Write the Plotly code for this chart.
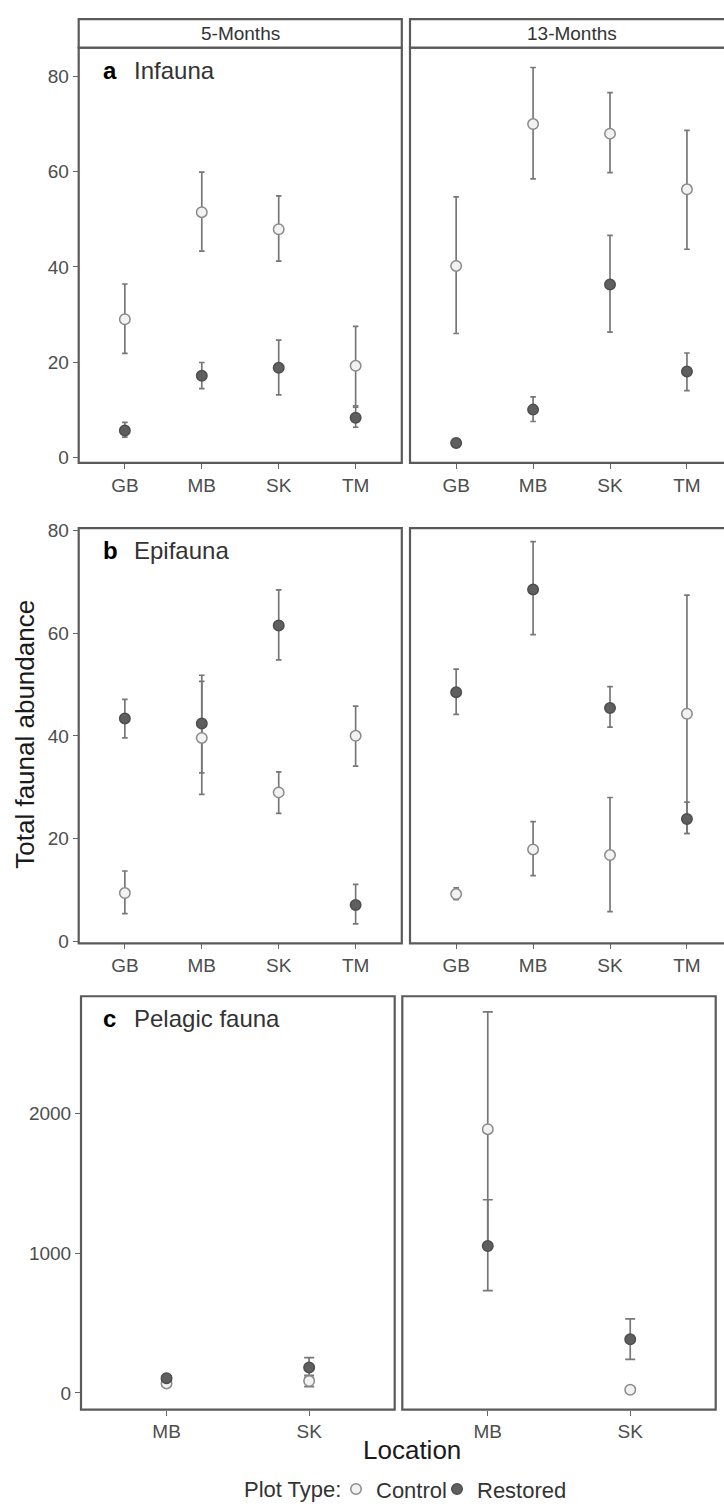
import numpy as np
import plotly.graph_objects as go

W, H = 724, 1511

# ---------------- data ----------------
locs4 = ["GB", "MB", "SK", "TM"]
locs2 = ["MB", "SK"]
periods = ["5-Months", "13-Months"]

# Infauna
inf_5_ctrl = [29.0, 51.5, 47.9, 19.2]
inf_5_ctrl_lo = [21.8, 43.3, 41.2, 10.8]
inf_5_ctrl_hi = [36.4, 59.9, 54.9, 27.5]
inf_5_rest = [5.6, 17.1, 18.8, 8.3]
inf_5_rest_lo = [4.2, 14.4, 13.1, 6.3]
inf_5_rest_hi = [7.3, 19.9, 24.6, 10.5]
inf_13_ctrl = [40.2, 70.0, 68.0, 56.3]
inf_13_ctrl_lo = [26.0, 58.5, 59.8, 43.7]
inf_13_ctrl_hi = [54.7, 81.9, 76.6, 68.7]
inf_13_rest = [3.0, 10.0, 36.3, 18.0]
inf_13_rest_lo = [2.6, 7.5, 26.3, 14.0]
inf_13_rest_hi = [3.5, 12.7, 46.6, 21.9]

# Epifauna
epi_5_ctrl = [9.4, 39.6, 29.0, 40.0]
epi_5_ctrl_lo = [5.4, 28.6, 24.9, 34.1]
epi_5_ctrl_hi = [13.7, 51.8, 33.0, 45.8]
epi_5_rest = [43.4, 42.4, 61.5, 7.1]
epi_5_rest_lo = [39.6, 32.8, 54.8, 3.4]
epi_5_rest_hi = [47.1, 50.6, 68.4, 11.1]
epi_13_ctrl = [9.2, 17.9, 16.8, 44.3]
epi_13_ctrl_lo = [8.1, 12.8, 5.8, 21.0]
epi_13_ctrl_hi = [10.4, 23.3, 28.0, 67.4]
epi_13_rest = [48.5, 68.5, 45.4, 23.8]
epi_13_rest_lo = [44.2, 59.7, 41.7, 21.0]
epi_13_rest_hi = [53.0, 77.8, 49.6, 27.1]

# Pelagic fauna
pel_5_ctrl = [68, 85]
pel_5_ctrl_lo = [52, 45]
pel_5_ctrl_hi = [84, 125]
pel_5_rest = [105, 182]
pel_5_rest_lo = [88, 112]
pel_5_rest_hi = [122, 252]
pel_13_ctrl = [1886, 23]
pel_13_ctrl_lo = [1048, 8]
pel_13_ctrl_hi = [2724, 38]
pel_13_rest = [1050, 384]
pel_13_rest_lo = [732, 240]
pel_13_rest_hi = [1381, 530]

y_ticks_ab = [0, 20, 40, 60, 80]
y_ticks_c = [0, 1000, 2000]

# ---------------- styling ----------------
FONT = "Liberation Sans, Arial, Helvetica, sans-serif"
BORDER = "#5a5a5a"
ERR = "#777777"
CTRL_FILL, CTRL_LINE = "#f2f2f2", "#8a8a8a"
REST_FILL, REST_LINE = "#5f5f5f", "#4e4e4e"


def px(x):
    return x / W


def py(y):
    return 1 - y / H


# panel geometry (pixels): x0, x1 (visible), full width, y_top, y_bottom
panels = [
    dict(cats=locs4, x0=78.7, x1=401.8, full=323.1, yt=40, yb=460, yr=[-1.18, 86.09], yt_vals=y_ticks_ab, ylab=True,
         ctrl=(inf_5_ctrl, inf_5_ctrl_lo, inf_5_ctrl_hi), rest=(inf_5_rest, inf_5_rest_lo, inf_5_rest_hi), cap=2.8),
    dict(cats=locs4, x0=410.0, x1=724.0, full=323.1, yt=40, yb=460, yr=[-1.18, 86.09], yt_vals=y_ticks_ab, ylab=False,
         ctrl=(inf_13_ctrl, inf_13_ctrl_lo, inf_13_ctrl_hi), rest=(inf_13_rest, inf_13_rest_lo, inf_13_rest_hi), cap=2.8),
    dict(cats=locs4, x0=78.7, x1=401.8, full=323.1, yt=526, yb=946, yr=[-0.385, 80.44], yt_vals=y_ticks_ab, ylab=True,
         ctrl=(epi_5_ctrl, epi_5_ctrl_lo, epi_5_ctrl_hi), rest=(epi_5_rest, epi_5_rest_lo, epi_5_rest_hi), cap=2.8),
    dict(cats=locs4, x0=410.0, x1=724.0, full=323.1, yt=526, yb=946, yr=[-0.385, 80.44], yt_vals=y_ticks_ab, ylab=False,
         ctrl=(epi_13_ctrl, epi_13_ctrl_lo, epi_13_ctrl_hi), rest=(epi_13_rest, epi_13_rest_lo, epi_13_rest_hi), cap=2.8),
    dict(cats=locs2, x0=81.0, x1=394.7, full=313.7, yt=999.5, yb=1417.5, yr=[-118.8, 2836], yt_vals=y_ticks_c, ylab=True,
         ctrl=(pel_5_ctrl, pel_5_ctrl_lo, pel_5_ctrl_hi), rest=(pel_5_rest, pel_5_rest_lo, pel_5_rest_hi), cap=5),
    dict(cats=locs2, x0=402.3, x1=715.7, full=313.4, yt=999.5, yb=1417.5, yr=[-118.8, 2836], yt_vals=y_ticks_c, ylab=False,
         ctrl=(pel_13_ctrl, pel_13_ctrl_lo, pel_13_ctrl_hi), rest=(pel_13_rest, pel_13_rest_lo, pel_13_rest_hi), cap=5),
]

fig = go.Figure()
layout = dict(
    width=W, height=H,
    margin=dict(l=0, r=0, t=0, b=0, pad=0),
    paper_bgcolor="white", plot_bgcolor="white",
    font=dict(family=FONT, color="#4d4d4d"),
    showlegend=True,
    legend=dict(
        orientation="h", x=px(336), xanchor="left", y=py(1498), yanchor="middle",
        font=dict(size=22, color="#333333", family=FONT),
        itemwidth=30, bgcolor="rgba(0,0,0,0)", tracegroupgap=0,
    ),
)
shapes = []
annotations = []
legend_widths = {"Control": 56, "Restored": 95}

for i, p in enumerate(panels, start=1):
    xa = "x" if i == 1 else f"x{i}"
    ya = "y" if i == 1 else f"y{i}"
    n = len(p["cats"])
    unit = p["full"] / (n - 1 + 1.2)
    vis = (p["x1"] - p["x0"]) / unit
    layout["xaxis" if i == 1 else f"xaxis{i}"] = dict(
        domain=[px(p["x0"]), px(p["x1"])], anchor=ya, type="category",
        categoryorder="array", categoryarray=p["cats"],
        range=[-0.6, -0.6 + vis], showgrid=False, zeroline=False, showline=False,
        ticks="outside", ticklen=5, tickwidth=1.2, tickcolor="#666666",
        tickfont=dict(size=19, color="#4d4d4d"), fixedrange=True,
    )
    layout["yaxis" if i == 1 else f"yaxis{i}"] = dict(
        domain=[py(p["yb"]), py(p["yt"])], anchor=xa,
        range=p["yr"], tickvals=p["yt_vals"], showgrid=False, zeroline=False, showline=False,
        ticks="outside" if p["ylab"] else "", ticklen=5, tickwidth=1.2, tickcolor="#666666",
        showticklabels=p["ylab"], tickfont=dict(size=19, color="#4d4d4d"), fixedrange=True,
    )
    # error bars (drawn beneath points)
    for grp in ("ctrl", "rest"):
        m, lo, hi = (np.array(v, dtype=float) for v in p[grp])
        fig.add_trace(go.Scatter(
            x=p["cats"], y=m, xaxis=xa, yaxis=ya, mode="markers",
            marker=dict(size=1, color="rgba(0,0,0,0)"),
            error_y=dict(type="data", symmetric=False, array=hi - m, arrayminus=m - lo,
                         color=ERR, thickness=1.7, width=p["cap"]),
            showlegend=False, hoverinfo="skip",
        ))
    # points
    for grp, name, fill, line in (("ctrl", "Control", CTRL_FILL, CTRL_LINE),
                                  ("rest", "Restored", REST_FILL, REST_LINE)):
        m = p[grp][0]
        fig.add_trace(go.Scatter(
            x=p["cats"], y=m, xaxis=xa, yaxis=ya, mode="markers", name=name,
            legendgroup=name, showlegend=(i == 1), legendwidth=legend_widths[name],
            marker=dict(size=10.5, color=fill, line=dict(color=line, width=1.5)),
        ))
    # panel border
    shapes.append(dict(type="rect", xref=f"{xa} domain", yref=f"{ya} domain",
                       x0=0, x1=p["full"] / (p["x1"] - p["x0"]), y0=0, y1=1,
                       line=dict(color=BORDER, width=2.2), fillcolor="rgba(0,0,0,0)", layer="above"))

# facet strips (top row)
for (sx0, full), label in zip(((78.7, 323.1), (410.0, 323.1)), periods):
    shapes.append(dict(type="rect", xref="paper", yref="paper",
                       x0=px(sx0), x1=px(sx0 + full), y0=py(40), y1=py(11.2),
                       line=dict(color=BORDER, width=2.2), fillcolor="white", layer="above"))
    annotations.append(dict(text=label, xref="paper", yref="paper", x=px(sx0 + full / 2), y=py(25.6),
                            xanchor="center", yanchor="middle", showarrow=False,
                            font=dict(size=19, color="#333333", family=FONT)))

# panel labels
for letter, title, top in (("a", "Infauna", 40), ("b", "Epifauna", 526), ("c", "Pelagic fauna", 999.5)):
    annotations.append(dict(text=f"<b>{letter}</b>", xref="paper", yref="paper", x=px(101.5), y=py(top + 23),
                            xanchor="left", yanchor="middle", showarrow=False,
                            font=dict(size=24, color="#000000", family=FONT)))
    annotations.append(dict(text=title, xref="paper", yref="paper", x=px(131.5), y=py(top + 23),
                            xanchor="left", yanchor="middle", showarrow=False,
                            font=dict(size=24, color="#333333", family=FONT)))

# axis titles
annotations.append(dict(text="Total faunal abundance", xref="paper", yref="paper", x=px(25), y=py(735),
                        xanchor="center", yanchor="middle", textangle=-90, showarrow=False,
                        font=dict(size=26, color="#1a1a1a", family=FONT)))
annotations.append(dict(text="Location", xref="paper", yref="paper", x=px(411.7), y=py(1458),
                        xanchor="center", yanchor="middle", showarrow=False,
                        font=dict(size=26, color="#1a1a1a", family=FONT)))
# legend title
annotations.append(dict(text="Plot Type:", xref="paper", yref="paper", x=px(343), y=py(1498),
                        xanchor="right", yanchor="middle", showarrow=False,
                        font=dict(size=22, color="#333333", family=FONT)))

layout["shapes"] = shapes
layout["annotations"] = annotations
fig.update_layout(**layout)
fig.write_html("out.html", config={"displayModeBar": False},
               post_script="document.body.style.margin='0';document.body.style.overflow='hidden';")
